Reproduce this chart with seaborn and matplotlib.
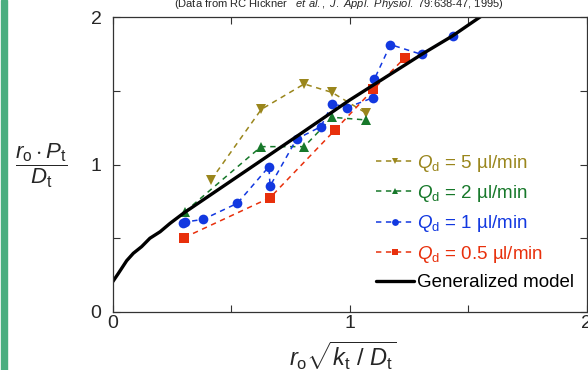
import matplotlib
matplotlib.use("Agg")
import matplotlib.pyplot as plt
import matplotlib.patches as patches
import seaborn as sns
import pandas as pd

# data
q5_x = [0.415, 0.627, 0.808, 0.925, 1.069]
q5_y = [0.895, 1.374, 1.546, 1.489, 1.349]

q2_x = [0.305, 0.626, 0.808, 0.927, 1.069]
q2_y = [0.680, 1.121, 1.121, 1.320, 1.302]

q1_x = [0.295, 0.305, 0.382, 0.526, 0.659, 0.664, 0.776, 0.878, 0.927, 0.989, 1.100, 1.104, 1.172, 1.304, 1.434]
q1_y = [0.601, 0.610, 0.628, 0.737, 0.985, 0.854, 1.173, 1.256, 1.412, 1.386, 1.454, 1.578, 1.813, 1.746, 1.870]

q05_x = [0.301, 0.664, 0.938, 1.100, 1.233]
q05_y = [0.504, 0.775, 1.234, 1.510, 1.724]

model_x = [0.0, 0.024, 0.059, 0.087, 0.122, 0.157, 0.200, 0.242, 0.298, 0.500, 0.776, 1.000, 1.304, 1.433, 1.550, 1.600]
model_y = [0.205, 0.262, 0.348, 0.398, 0.443, 0.500, 0.544, 0.601, 0.669, 0.889, 1.190, 1.437, 1.747, 1.871, 2.000, 2.050]

labels = [r"$Q_\mathrm{d}$ = 5 µl/min", r"$Q_\mathrm{d}$ = 2 µl/min",
          r"$Q_\mathrm{d}$ = 1 µl/min", r"$Q_\mathrm{d}$ = 0.5 µl/min"]
colors = ["#9a861c", "#17782a", "#1238e0", "#e8300c"]
markers = ["v", "^", "o", "s"]

sns.set_style("ticks")
plt.rcParams["font.family"] = ["Liberation Sans", "DejaVu Sans"]
plt.rcParams["mathtext.fontset"] = "custom"
plt.rcParams["mathtext.rm"] = "Liberation Sans"
plt.rcParams["mathtext.it"] = "Liberation Sans:italic"
plt.rcParams["mathtext.bf"] = "Liberation Sans:bold"

fig = plt.figure(figsize=(5.88, 3.70), dpi=100)
ax = fig.add_axes([112.7 / 588, 58 / 370, 474 / 588, 295 / 370])

series = [(q5_x, q5_y), (q2_x, q2_y), (q1_x, q1_y), (q05_x, q05_y)]
for (xs, ys), lab, col, mk in zip(series, labels, colors, markers):
    df = pd.DataFrame({"x": xs, "y": ys})
    sns.lineplot(data=df, x="x", y="y", ax=ax, estimator=None, sort=True,
                 color=col, marker=mk, markersize=7, markeredgewidth=0,
                 linestyle=(0, (3.5, 3)), linewidth=1.1, label=lab)

mdf = pd.DataFrame({"x": model_x, "y": model_y})
sns.lineplot(data=mdf, x="x", y="y", ax=ax, estimator=None, color="black",
             linewidth=2.4, label="Generalized model")

ax.set_xlim(0, 2)
ax.set_ylim(0, 2)
ax.set_xticks([0, 0.5, 1, 1.5, 2])
ax.set_xticklabels(["0", "", "1", "", "2"])
ax.set_yticks([0, 0.5, 1, 1.5, 2])
ax.set_yticklabels(["0", "", "1", "", "2"])
ax.tick_params(direction="in", top=True, right=True, length=5, width=0.8,
               labelsize=14, color="#333333")
ax.tick_params(axis="x", pad=2)
ax.tick_params(axis="y", pad=8)
for s in ax.spines.values():
    s.set_linewidth(0.9)
    s.set_color("#333333")
ax.set_xlabel("")
ax.set_ylabel("")

leg = ax.legend(loc="lower right", bbox_to_anchor=(0.99, 0.045), frameon=False,
                fontsize=13.5, handlelength=2.0, handletextpad=0.2,
                labelspacing=0.5, markerscale=0.7, borderaxespad=0.0)
for txt, col in zip(leg.get_texts(), colors + ["black"]):
    txt.set_color(col)

fig.text(41 / 588, 1 - 166 / 370,
         r"$\dfrac{r_\mathrm{o}\cdot P_\mathrm{t}}{D_\mathrm{t}}$",
         fontsize=16, ha="center", va="center")
fig.text(343 / 588, 1 - 356 / 370,
         r"$r_\mathrm{o}\sqrt{k_\mathrm{t}\ /\ D_\mathrm{t}}$",
         fontsize=17, ha="center", va="center")
fig.text(339 / 588, 1 - 7 / 370,
         r"(Data from RC Hickner   $\mathit{et\ al.,\ J.\ Appl.\ Physiol.}$ 79:638-47, 1995)",
         fontsize=8, ha="center", va="baseline")

fig.patches.append(patches.Rectangle((1.5 / 588, 0), 5.5 / 588, 1,
                                     transform=fig.transFigure,
                                     color="#4aae80", zorder=0))

fig.savefig("out.png", dpi=100)
